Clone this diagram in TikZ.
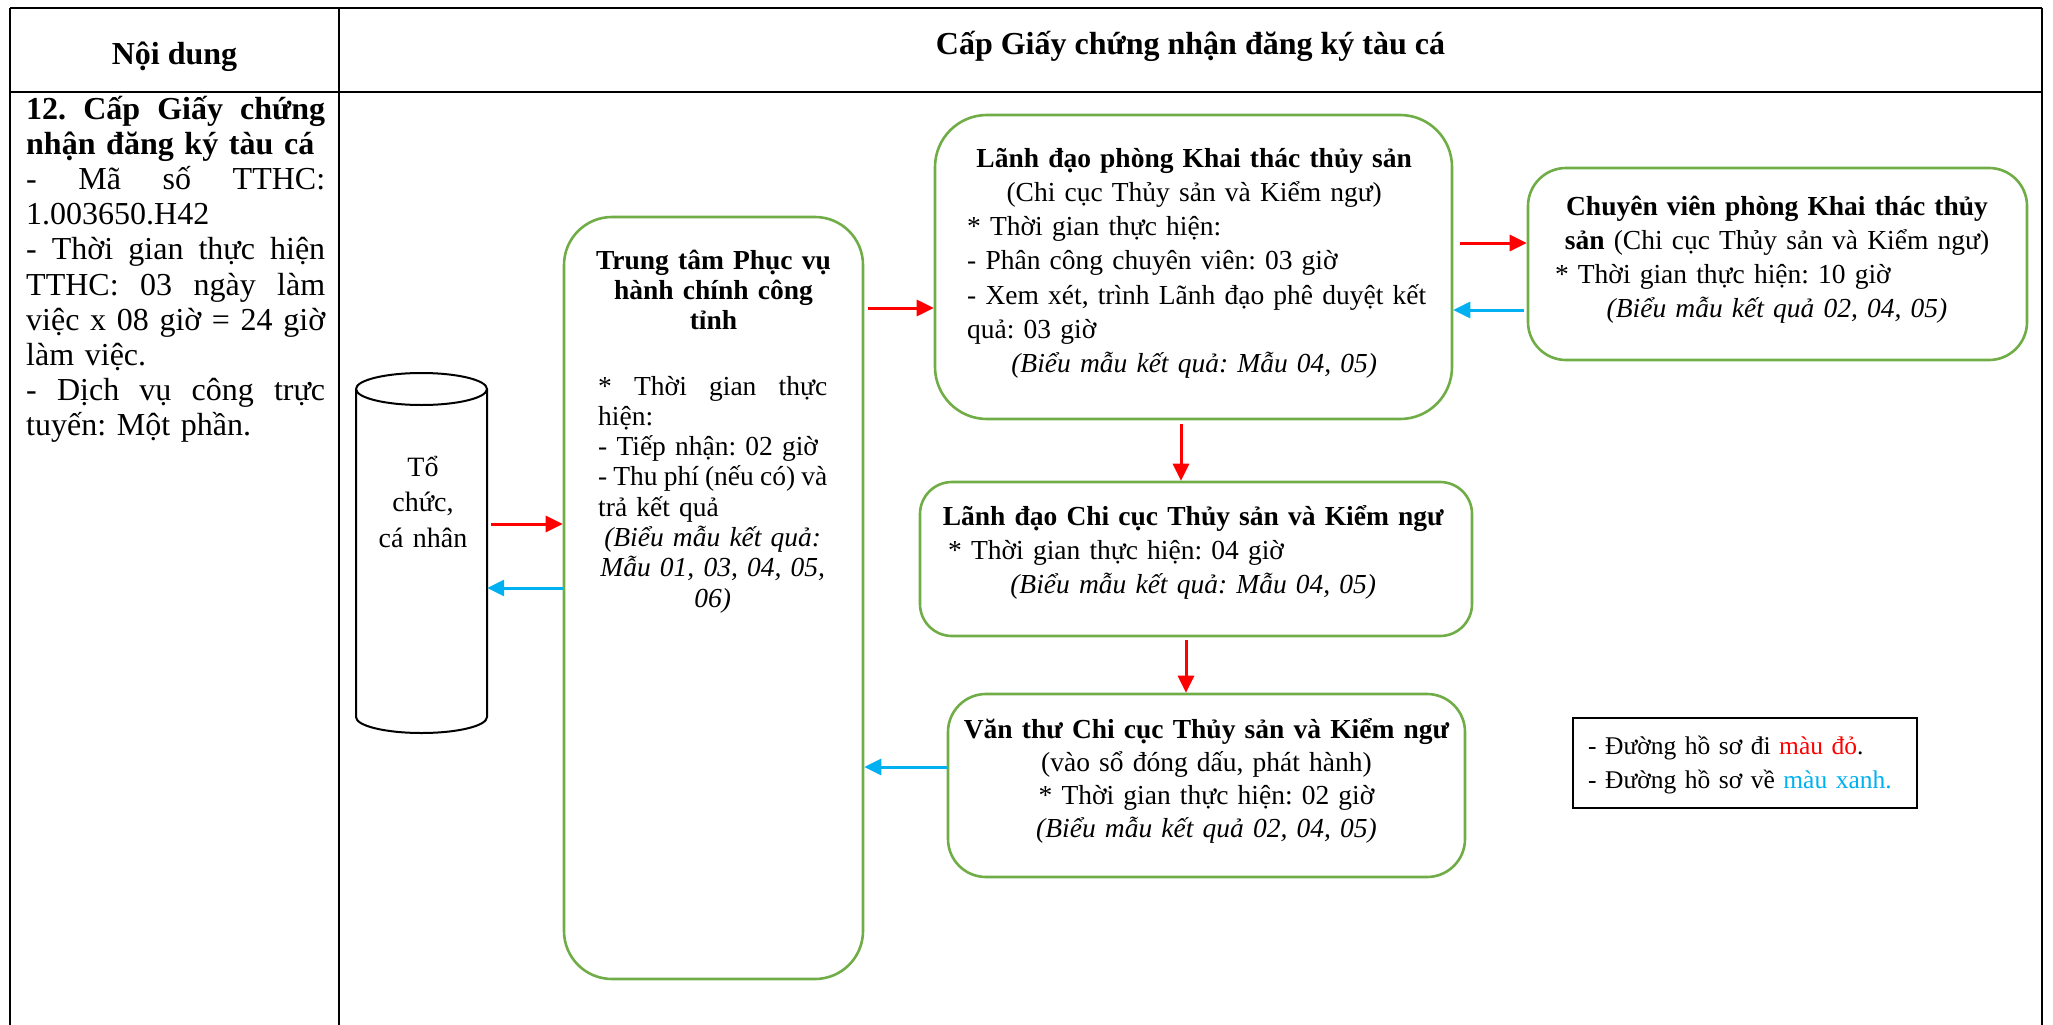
\documentclass[tikz,border=0pt]{standalone}
\usepackage{fontspec}
\setmainfont{Liberation Serif}
\usetikzlibrary{arrows.meta}
\frenchspacing

\definecolor{boxgreen}{HTML}{70AD47}
\definecolor{flowred}{HTML}{FF0000}
\definecolor{flowblue}{HTML}{00B0F0}

% one line of a text block: centred, flush left, or spread to full width
\newcommand\lnC[1]{\leavevmode\hbox to\hsize{\hss#1\hss}}
\newcommand\lnL[1]{\leavevmode\hbox to\hsize{#1\hss}}
\newcommand\lnJ[1]{\leavevmode\hbox to\hsize{#1}}

\tikzset{
  grid/.style={draw=black, line width=2.2pt},
  gbox/.style={draw=boxgreen, line width=2.6pt, rounded corners=#1, inner sep=0pt},
  hdr/.style={inner sep=0pt, font=\fontsize{32}{35}\selectfont\bfseries},
  colt/.style={inner sep=0pt, align=left, text width=299pt, font=\fontsize{32}{35.2}\selectfont},
  txt/.style={inner sep=0pt, align=left, font=\fontsize{27.5}{34.3}\selectfont},
  redarr/.style={draw=flowred, line width=3pt, -{Triangle[length=17pt,width=16pt]}},
  bluearr/.style={draw=flowblue, line width=3pt, -{Triangle[length=17pt,width=16pt]}},
}

\begin{document}
\begin{tikzpicture}[x=1pt,y=-1pt]
\useasboundingbox (0,0) rectangle (2053,1025);

% table frame
\draw[grid] (10,8) -- (2042,8);
\draw[grid] (10,92) -- (2042,92);
\draw[grid] (10,8) -- (10,1025);
\draw[grid] (339,8) -- (339,1025);
\draw[grid] (2042,8) -- (2042,1025);

\node[hdr, anchor=base] (hleft) at (174.5,64) {Nội dung};
\node[hdr, anchor=base] (hright) at (1190.5,55) {Cấp Giấy chứng nhận đăng ký tàu cá};

% first column
\node[colt, anchor=base west] (content) at (26,119) {%
\lnJ{\bfseries 12.\hfill Cấp\hfill Giấy\hfill chứng}\\
\lnL{\bfseries nhận đăng ký tàu cá}\\
\lnJ{-\hfill Mã\hfill số\hfill TTHC:}\\
\lnL{1.003650.H42}\\
\lnJ{-\hfill Thời\hfill gian\hfill thực\hfill hiện}\\
\lnJ{TTHC:\hfill 03\hfill ngày\hfill làm}\\
\lnJ{việc\hfill x\hfill 08\hfill giờ\hfill =\hfill 24\hfill giờ}\\
\lnL{làm việc.}\\
\lnJ{-\hfill Dịch\hfill vụ\hfill công\hfill trực}\\
\lnL{tuyến: Một phần.}};

% applicant (cylinder)
\node[minimum width=131pt, minimum height=360pt, inner sep=0pt] (org) at (421.5,553) {};
\draw[black, line width=2pt] (356,389) arc[start angle=180, end angle=-180, x radius=65.5, y radius=16];
\draw[black, line width=2pt] (356,389) -- (356,717)
  arc[start angle=180, end angle=0, x radius=65.5, y radius=16] -- (487,389);
\node[txt, text width=130pt, font=\fontsize{28}{35.5}\selectfont, anchor=base] (orgtxt) at (423,476) {%
\lnC{Tổ}\\ \lnC{chức,}\\ \lnC{cá nhân}};

% one-stop service centre
\node[gbox=48pt, minimum width=299pt, minimum height=762pt] (ttam) at (713.5,598) {};
\node[txt, text width=229pt, font=\fontsize{27.5}{30.3}\selectfont\bfseries, anchor=base] (ttamtitle) at (713.5,269) {%
\lnC{Trung tâm Phục vụ}\\ \lnC{hành chính công}\\ \lnC{tỉnh}};
\node[txt, text width=229pt, font=\fontsize{27.5}{30.3}\selectfont, anchor=base west] (ttambody) at (598,395) {%
\lnJ{*\hfill Thời\hfill gian\hfill thực}\\
\lnL{hiện:}\\
\lnL{- Tiếp nhận: 02 giờ}\\
\lnJ{-\hfill Thu\hfill phí\hfill (nếu\hfill có)\hfill và}\\
\lnL{trả kết quả}\\
\lnC{\itshape (Biểu mẫu kết quả:}\\
\lnC{\itshape Mẫu 01, 03, 04, 05,}\\
\lnC{\itshape 06)}};

% head of the fishing division
\node[gbox=52pt, minimum width=517pt, minimum height=304pt] (lp) at (1193.5,267) {};
\node[txt, text width=454pt, anchor=base west] (lptxt) at (967,167) {%
\lnC{\bfseries Lãnh đạo phòng Khai thác thủy sản}\\
\lnC{(Chi cục Thủy sản và Kiểm ngư)}\\
\lnL{* Thời gian thực hiện:}\\
\lnL{- Phân công chuyên viên: 03 giờ}\\
\lnL{- Xem xét, trình Lãnh đạo phê duyệt kết}\\
\lnL{quả: 03 giờ}\\
\lnC{\itshape (Biểu mẫu kết quả: Mẫu 04, 05)}};

% specialist of the fishing division
\node[gbox=38pt, minimum width=499pt, minimum height=192pt] (cv) at (1777.5,264) {};
\node[txt, text width=444pt, anchor=base] (cvtxt) at (1777,215) {%
\lnC{\bfseries Chuyên viên phòng Khai thác thủy}\\
\lnC{\textbf{sản} (Chi cục Thủy sản và Kiểm ngư)}\\
\lnL{* Thời gian thực hiện: 10 giờ}\\
\lnC{\itshape (Biểu mẫu kết quả 02, 04, 05)}};

% head of the sub-department
\node[gbox=32pt, minimum width=552pt, minimum height=154pt] (lc) at (1196,559) {};
\node[txt, text width=490pt, anchor=base west] (lctxt) at (948,525) {%
\lnC{\bfseries Lãnh đạo Chi cục Thủy sản và Kiểm ngư}\\
\lnL{* Thời gian thực hiện: 04 giờ}\\
\lnC{\itshape (Biểu mẫu kết quả: Mẫu 04, 05)}};

% clerical office
\node[gbox=38pt, minimum width=517pt, minimum height=183pt] (vt) at (1206.5,785.5) {};
\node[txt, text width=500pt, font=\fontsize{27.5}{33.3}\selectfont, anchor=base] (vttxt) at (1206.5,738) {%
\lnC{\bfseries Văn thư Chi cục Thủy sản và Kiểm ngư}\\
\lnC{(vào sổ đóng dấu, phát hành)}\\
\lnC{* Thời gian thực hiện: 02 giờ}\\
\lnC{\itshape (Biểu mẫu kết quả 02, 04, 05)}};

% legend
\node[draw=black, line width=2pt, minimum width=344pt, minimum height=90pt, inner sep=0pt] (legend) at (1745,763) {};
\node[txt, text width=320pt, font=\fontsize{25.5}{34}\selectfont, anchor=base west] (legendtxt) at (1588,754) {%
\lnL{- Đường hồ sơ đi \textcolor{flowred}{màu đỏ}.}\\
\lnL{- Đường hồ sơ về \textcolor{flowblue}{màu xanh.}}};

% rows and columns of the connectors
\coordinate (rowA) at (0,524);
\coordinate (rowB) at (0,588);
\coordinate (rowC) at (0,308);
\coordinate (rowD) at (0,243);
\coordinate (rowE) at (0,310);
\coordinate (rowF) at (0,767);
\coordinate (colA) at (1181,0);
\coordinate (colB) at (1186,0);

% outgoing files (red)
\draw[redarr, shorten <=4pt] (org.east |- rowA) -- (ttam.west |- rowA);
\draw[redarr, shorten <=4pt] (ttam.east |- rowC) -- (lp.west |- rowC);
\draw[redarr, shorten <=7pt] (lp.east |- rowD) -- (cv.west |- rowD);
\draw[redarr, shorten <=4pt] (lp.south -| colA) -- (lc.north -| colA);
\draw[redarr, shorten <=3pt] (lc.south -| colB) -- (vt.north -| colB);

% returning files (blue)
\draw[bluearr, shorten <=3pt] (cv.west |- rowE) -- (lp.east |- rowE);
\draw[bluearr] (vt.west |- rowF) -- (ttam.east |- rowF);
\draw[bluearr] (ttam.west |- rowB) -- (org.east |- rowB);

\end{tikzpicture}
\end{document}
